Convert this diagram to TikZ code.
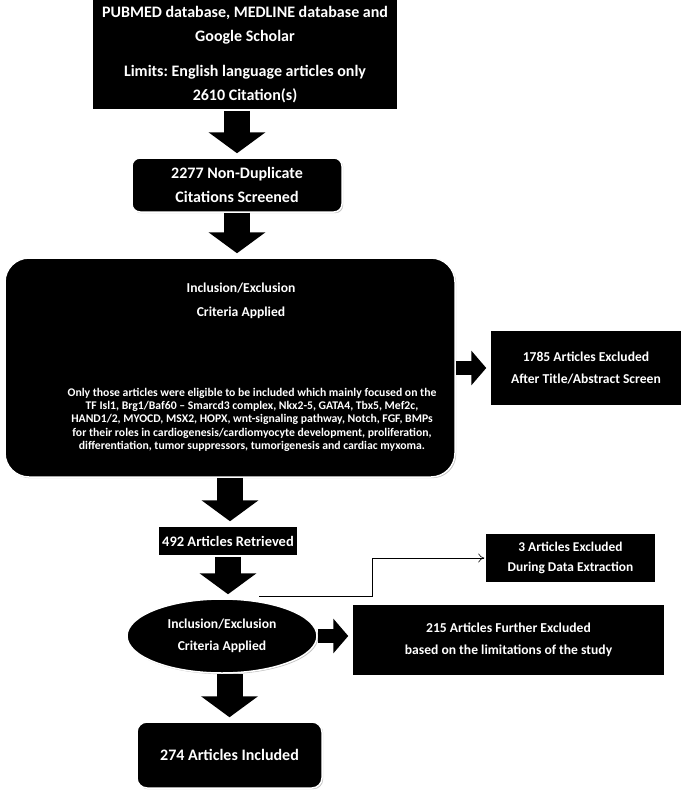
\documentclass[tikz,border=0pt]{standalone}
\usepackage{fontspec}
\setmainfont{Carlito}
\usetikzlibrary{positioning, arrows.meta, shapes.geometric, shadows, calc}

\newcommand{\bigfont}{\fontsize{16}{23.5}\selectfont}
\newcommand{\midfont}{\fontsize{13.6}{22}\selectfont}
\newcommand{\critfont}{\fontsize{13.6}{24}\selectfont}
\newcommand{\parafont}{\fontsize{11.7}{13.4}\selectfont}

\begin{document}
\frenchspacing
\begin{tikzpicture}[
    x=1pt, y=-1pt,
    blackbox/.style={
        rectangle,
        fill=black,
        draw=white,
        line width=1.5pt,
        text=white,
        font=\bfseries\midfont,
        align=center,
        inner sep=0pt,
        drop shadow={shadow xshift=1.2pt, shadow yshift=-1.2pt, fill=black!30, opacity=0.8}
    },
    roundbox/.style={blackbox, rounded corners=8pt},
    ovalbox/.style={blackbox, ellipse},
    downarr/.style={-{Triangle[length=21pt, width=56pt]}, line width=26pt, shorten >=4pt},
    sidearr/.style={-{Triangle[length=15pt, width=34pt]}, line width=14pt, shorten >=3pt},
    leadline/.style={-{To[length=6pt, width=9pt]}, line width=0.6pt}
]
\useasboundingbox (0, 0) rectangle (685, 795);

\node[blackbox, minimum width=306pt, minimum height=111pt, font=\bfseries\bigfont] (search) at (245, 54.5)
    {PUBMED database, MEDLINE database and\\Google Scholar\\[12pt]Limits: English language articles only\\2610 Citation(s)};
\node[roundbox, minimum width=210pt, minimum height=54pt, font=\bfseries\bigfont] (dedup) at (237, 185)
    {2277 Non-Duplicate\\Citations Screened};
\node[blackbox, rounded corners=24pt, minimum width=450pt, minimum height=219pt, font=\bfseries\parafont] (screen) at (230, 367.5)
    {\hspace*{22pt}\critfont Inclusion/Exclusion\\[10.6pt]
     \hspace*{22pt}\critfont Criteria Applied\\[66pt]
     \hspace*{44pt}Only those articles were eligible to be included which mainly focused on the\\
     \hspace*{44pt}TF Isl1, Brg1/Baf60 -- Smarcd3 complex, Nkx2-5, GATA4, Tbx5, Mef2c,\\
     \hspace*{44pt}HAND1/2, MYOCD, MSX2, HOPX, wnt-signaling pathway, Notch, FGF, BMPs\\
     \hspace*{44pt}for their roles in cardiogenesis/cardiomyocyte development, proliferation,\\
     \hspace*{44pt}differentiation, tumor suppressors, tumorigenesis and cardiac myxoma.};
\node[blackbox, minimum width=192pt, minimum height=76pt] (title) at (586, 368)
    {1785 Articles Excluded\\After Title/Abstract Screen};
\node[blackbox, minimum width=140pt, minimum height=30pt, font=\bfseries\fontsize{14.5}{18}\selectfont] (retr) at (228, 541)
    {492 Articles Retrieved};
\node[blackbox, minimum width=171pt, minimum height=50pt, font=\bfseries\fontsize{13.4}{20}\selectfont] (extract) at (570.5, 558)
    {3 Articles Excluded\\During Data Extraction};
\node[ovalbox, minimum width=190pt, minimum height=74pt] (elig) at (222, 636)
    {Inclusion/Exclusion\\Criteria Applied};
\node[blackbox, minimum width=313pt, minimum height=72pt] (limits) at (508.5, 640)
    {215 Articles Further Excluded\\based on the limitations of the study};
\node[roundbox, rounded corners=10pt, minimum width=185pt, minimum height=66pt, font=\bfseries\bigfont] (incl) at (229.5, 755)
    {274 Articles Included};

% main flow
\draw[downarr] (search.south -| dedup.north) -- (dedup.north);
\draw[downarr] (dedup.south) -- (dedup.south |- screen.north);
\draw[downarr] (screen.south) -- (screen.south |- retr.north);
\draw[downarr] (retr.south) -- (retr.south |- elig.north);
\draw[downarr] (elig.south -| incl.north) -- (incl.north);

% exclusions
\draw[sidearr] (screen.east |- title.west) -- (title.west);
\draw[sidearr] (elig.east) -- (elig.east -| limits.west);

\coordinate (split) at (259, 596);
\coordinate (bend) at (372, 596);
\draw[leadline] (split) -- (bend) |- (extract.west);

\end{tikzpicture}
\end{document}
